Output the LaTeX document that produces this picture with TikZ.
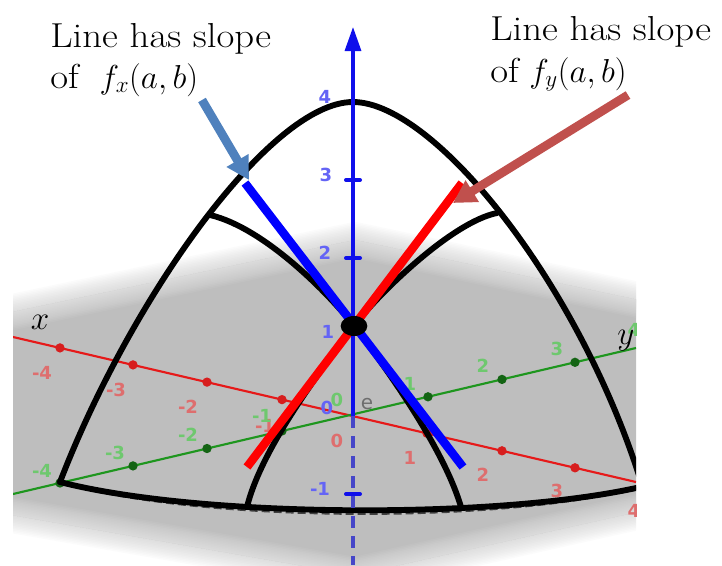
\documentclass[tikz,border=0pt]{standalone}
\usepackage{fontspec}
\newfontfamily\ggbfont{DejaVu Sans}
\usetikzlibrary{arrows.meta,shapes.geometric}
\definecolor{planegray}{RGB}{190,190,190}
\definecolor{annblue}{RGB}{79,129,189}
\definecolor{annred}{RGB}{192,80,77}
\definecolor{zblue}{RGB}{15,15,235}
\definecolor{zdash}{RGB}{70,70,200}
\definecolor{lblred}{RGB}{222,110,110}
\definecolor{lblgreen}{RGB}{110,200,110}
\definecolor{lblblue}{RGB}{100,100,245}
\definecolor{dotred}{RGB}{215,30,30}
\definecolor{dotgreen}{RGB}{20,100,20}
\definecolor{axred}{RGB}{230,25,25}
\definecolor{axgreen}{RGB}{30,150,30}
\definecolor{elbl}{RGB}{110,110,110}
\begin{document}
\begin{tikzpicture}[x=0.75pt,y=-0.75pt,
  curve/.style={line width=4.4pt,line cap=round,line join=round},
  tanline/.style={line width=6.4pt},
  lbl/.style={font=\ggbfont\bfseries\fontsize{13.5}{15}\selectfont,inner sep=0pt},
  rlbl/.style={lbl,text=lblred},
  glbl/.style={lbl,text=lblgreen},
  blbl/.style={lbl,text=lblblue},
  rdot/.style={circle,fill=dotred,inner sep=0pt,minimum size=7pt},
  gdot/.style={circle,fill=dotgreen,inner sep=0pt,minimum size=7pt},
  anntext/.style={font=\fontsize{26}{30}\selectfont,inner sep=0pt,anchor=base west},
  annarrow/.style={line width=6.6pt,-{Triangle[length=17pt,width=18pt]}},
  ztick/.style={line width=3pt,line cap=round,zblue}
]
\useasboundingbox (0,0) rectangle (722,565);

% ---------- plane corners
\coordinate (P1) at (355,240);
\coordinate (P2) at (700,313);
\coordinate (P3) at (700,498);
\coordinate (P4) at (355,575);
\coordinate (P5) at (-40,506);
\coordinate (P6) at (-40,323);

\begin{scope}
\clip (13,0) rectangle (636,565);
% soft-edged plane
\foreach \w in {3,6,...,36}{
  \draw[planegray,opacity=0.056,line width={\w*0.75pt},line join=round]
    (P1)--(P2)--(P3)--(P4)--(P5)--(P6)--cycle;}
\fill[planegray] (P1)--(P2)--(P3)--(P4)--(P5)--(P6)--cycle;
\begin{scope}
  \clip (P1)--(P2)--(P3)--(P4)--(P5)--(P6)--cycle;
  \foreach \w in {3,6,...,36}{
    \draw[white,opacity=0.056,line width={\w*0.75pt},line join=round]
      (P1)--(P2)--(P3)--(P4)--(P5)--(P6)--cycle;}
\end{scope}

% ---------- x and y axes
\coordinate (xs) at (13,337);
\coordinate (xe) at (636,482);
\coordinate (ys) at (13,494);
\coordinate (ye) at (636,348);
\draw[axred,line width=1.6pt] (xs)--(xe);
\draw[axgreen,line width=1.6pt] (ys)--(ye);

\foreach \i/\x/\y in {1/60/347.9,2/133/364.9,3/207/382.1,4/282/399.6,5/427/433.3,6/502/450.8,7/575/467.8}
  \node[rdot] (rd\i) at (\x,\y) {};
\foreach \i/\x/\y in {1/60/483.0,2/133/465.9,3/207/448.5,4/282/431.0,5/428/396.8,6/502/379.4,7/575/362.3}
  \node[gdot] (gd\i) at (\x,\y) {};

\node[rlbl] (rl1) at (42,373) {-4};
\node[rlbl] (rl2) at (116,390) {-3};
\node[rlbl] (rl3) at (188,407) {-2};
\node[rlbl] (rl4) at (265,426) {-1};
\node[rlbl] (rl5) at (337,441) {0};
\node[rlbl] (rl6) at (410,458) {1};
\node[rlbl] (rl7) at (483,475) {2};
\node[rlbl] (rl8) at (557,491) {3};
\node[rlbl] (rl9) at (634,511) {4};

\node[glbl] (gl1) at (42,471) {-4};
\node[glbl] (gl2) at (115,453) {-3};
\node[glbl] (gl3) at (188,435) {-2};
\node[glbl] (gl4) at (262,416) {-1};
\node[glbl] (gl5) at (337,400) {0};
\node[glbl] (gl6) at (410,384) {1};
\node[glbl] (gl7) at (483,366) {2};
\node[glbl] (gl8) at (557,349) {3};
\node[glbl] (gl9) at (634,330) {4};

% ---------- surface traces
\coordinate (cL) at (60,482);
\coordinate (cT) at (353,102);
\coordinate (cR) at (645,495);
\coordinate (pt) at (354,326);
\coordinate (iA1) at (210,215);
\coordinate (iA2) at (461,507);
\coordinate (iB1) at (497,213);
\coordinate (iB2) at (247,507);
\coordinate (bR) at (645,486);

\draw[curve] (cL) .. controls (130,300) and (270,102) .. (cT)
             .. controls (435,102) and (585,290) .. (cR);
\draw[curve] (iA1) .. controls (265,228) and (330,295) .. (pt)
             .. controls (378,357) and (443,445) .. (iA2);
\draw[curve] (iB1) .. controls (452,222) and (378,294) .. (pt)
             .. controls (330,358) and (262,445) .. (iB2);
\draw[black!75,line width=2.4pt,dash pattern=on 6pt off 3pt,shift={(0,4)}]
  (cL) .. controls (200,518) and (500,520) .. (bR);
\draw[curve] (cL) .. controls (200,518) and (500,520) .. (bR);

% ---------- tangent lines
\coordinate (rt1) at (462,183);
\coordinate (rt2) at (247,467);
\coordinate (bt1) at (245,183);
\coordinate (bt2) at (463,467);
\draw[tanline,red] (rt1)--(rt2);
\draw[tanline,blue] (bt1)--(bt2);

% ---------- z axis
\coordinate (zo) at (353,416);
\coordinate (zt) at (353,27);
\coordinate (zb) at (353,565);
\draw[zblue,line width=2.4pt,-{Triangle[length=18pt,width=12pt]}] (zo)--(zt);
\draw[zdash,line width=2.4pt,dash pattern=on 9pt off 6pt] (zo)--(zb);
\coordinate (t3a) at (346,180); \coordinate (t3b) at (360,180);
\coordinate (t2a) at (346,258); \coordinate (t2b) at (360,258);
\coordinate (tma) at (346,494); \coordinate (tmb) at (360,494);
\draw[ztick] (t3a)--(t3b);
\draw[ztick] (t2a)--(t2b);
\draw[ztick] (tma)--(tmb);
\node[blbl] (bl4) at (325,97) {4};
\node[blbl] (bl3) at (326,175) {3};
\node[blbl] (bl2) at (325,253) {2};
\node[blbl] (bl1) at (328,332) {1};
\node[blbl] (bl0) at (327,408) {0};
\node[blbl] (blm) at (320,489) {-1};
\node[font=\ggbfont\fontsize{15}{15}\selectfont,text=elbl,inner sep=0pt] (elab) at (367,404) {e};

% ---------- point
\node[ellipse,fill=black,inner sep=0pt,minimum width=20pt,minimum height=15pt] (ptn) at (pt) {};
\end{scope}

% ---------- axis names
\node[inner sep=0pt] (xname) at (40,322) {\fontsize{25}{25}\selectfont$x$};
\node[inner sep=0pt] (yname) at (626,341) {\fontsize{25}{25}\selectfont$y$};

% ---------- annotations
\node[anntext] (lt1) at (50,47) {\scalebox{1.12}[1]{Line has slope}};
\node[anntext] (lt2) at (50,88) {\scalebox{1.12}[1]{of}\ \ $f_x(a,b)$};
\node[anntext] (rt1t) at (490,40) {\scalebox{1.12}[1]{Line has slope}};
\node[anntext] (rt2t) at (490,82) {\scalebox{1.12}[1]{of} $f_y(a,b)$};

\coordinate (ba1) at (202,100);
\coordinate (ba2) at (249,180);
\coordinate (ra1) at (628,95);
\coordinate (ra2) at (453,203);
\draw[annarrow,annblue] (ba1)--(ba2);
\draw[annarrow,annred] (ra1)--(ra2);
\end{tikzpicture}
\end{document}
